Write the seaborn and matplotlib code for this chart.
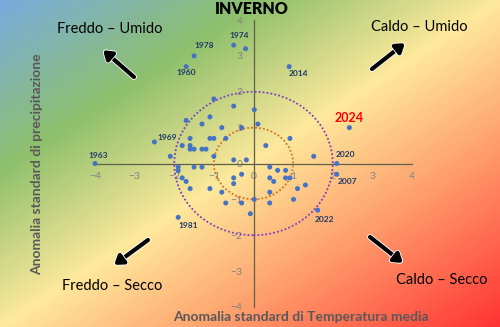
import numpy as np
import pandas as pd
import matplotlib
matplotlib.use("Agg")
import matplotlib.pyplot as plt
import matplotlib.patheffects as pe
from matplotlib.colors import LinearSegmentedColormap
from matplotlib.patches import Ellipse
import seaborn as sns

# ---------------- data ----------------
label_years = ["1960", "1963", "1969", "1974", "1978", "1981",
               "2007", "2014", "2020", "2022", "2024"]
label_temp = [-1.70, -4.00, -2.50, -0.50, -1.50, -1.90,
              2.10, 0.90, 2.10, 1.62, 2.42]
label_prec = [2.70, 0.00, 0.60, 3.30, 3.00, -1.50,
              -0.30, 2.70, 0.00, -1.30, 1.00]

other_temp = [-0.20, -1.00, -0.50, 0.02, -1.70, -1.10, -1.30, 0.11, -0.80, -0.30,
              -1.60, -1.10, -1.00, -0.70, 0.92, -1.80, -1.60, -1.60, -1.50, -1.30,
              -1.20, 0.31, -2.10, -1.00, 1.52, -0.50, -0.18, -1.90, -1.50, -1.30,
              0.41, -1.90, 0.61, 0.81, -0.30, -1.80, -0.50, 0.41, 0.81, 0.92,
              -1.70, -0.50, 0.51, 1.31, -1.60, -1.10, 1.11, -0.80, 0.41, 0.02,
              1.01, -0.70, 0.41, -0.30, -0.08]
other_prec = [3.20, 1.80, 1.60, 1.50, 1.20, 1.30, 1.10, 1.10, 1.00, 1.00,
              0.70, 0.70, 0.70, 0.70, 0.70, 0.50, 0.50, 0.40, 0.40, 0.40,
              0.40, 0.50, 0.20, 0.20, 0.20, 0.10, 0.10, -0.10, -0.10, -0.10,
              -0.10, -0.20, -0.19, -0.19, -0.30, -0.40, -0.40, -0.40, -0.40, -0.40,
              -0.50, -0.56, -0.50, -0.60, -0.70, -0.70, -0.70, -0.80, -0.80, -1.00,
              -1.00, -1.10, -1.10, -1.10, -1.40]

ticks = [-4, -3, -2, -1, 0, 1, 2, 3, 4]
circle_radii = [1, 2]

quadrant_texts = ["Freddo – Umido", "Caldo – Umido", "Freddo – Secco", "Caldo – Secco"]
title = "INVERNO"
xlabel = "Anomalia standard di Temperatura media"
ylabel = "Anomalia standard di precipitazione"

# ---------------- styling / layout ----------------
sns.set_style("white")
plt.rcParams["font.family"] = ["Lato", "DejaVu Sans"]

W, H = 500, 327
fig = plt.figure(figsize=(W / 100, H / 100), dpi=100)

# background gradient
bg = fig.add_axes([0, 0, 1, 1], zorder=0)
xx, yy = np.meshgrid(np.linspace(0, 1, W), np.linspace(0, 1, H))
t = (xx + yy) / 2.0
cmap = LinearSegmentedColormap.from_list(
    "bg", [(0.0, "#78acdf"), (0.26, "#8ec06c"), (0.5, "#fee99c"),
           (0.72, "#ff9d6b"), (1.0, "#ff3434")])
bg.imshow(t, cmap=cmap, aspect="auto", extent=[0, 1, 0, 1], origin="upper",
          interpolation="bilinear")
bg.set_xlim(0, 1)
bg.set_ylim(0, 1)
bg.axis("off")

def fx(px):
    return px / W

def fy(py):
    return 1 - py / H

# main axes
ax = fig.add_axes([fx(95), fy(307), (412 - 95) / W, (307 - 20) / H], zorder=1)
ax.set_facecolor("none")

df = pd.DataFrame({"temp": label_temp + other_temp, "prec": label_prec + other_prec})
sns.scatterplot(data=df, x="temp", y="prec", ax=ax, s=13, color="#4472c4",
                edgecolor="none", linewidth=0, zorder=4, clip_on=False)

circle_colors = ["#d8701e", "#7a3fc0"]
for r, c in zip(circle_radii, circle_colors):
    ax.add_patch(Ellipse((0, 0), 2 * r, 2 * r, fill=False, edgecolor=c,
                         linestyle=(0, (1, 1.2)), linewidth=1.3, zorder=3))

ax.set_xlim(-4, 4)
ax.set_ylim(-4, 4)
ax.set_xticks(ticks)
ax.set_yticks(ticks)
for s in ["top", "right"]:
    ax.spines[s].set_visible(False)
for s in ["left", "bottom"]:
    ax.spines[s].set_position(("data", 0))
    ax.spines[s].set_color("#5f5f4f")
    ax.spines[s].set_linewidth(0.9)
ax.tick_params(axis="x", direction="inout", length=6, width=0.9, color="#5f5f4f",
               labelsize=7.5, labelcolor="#808080", pad=3)
ax.tick_params(axis="y", direction="out", length=3, width=0.9, color="#5f5f4f",
               labelsize=7.5, labelcolor="#808080", pad=5)
ax.set_xlabel("")
ax.set_ylabel("")
ax.grid(False)

# point labels (offsets in pixels)
label_offsets = {"1960": (0, -6), "1963": (3, 8), "1969": (13, 4), "1974": (5, 10),
                 "1978": (10, 10), "1981": (10, -8), "2007": (11, -7),
                 "2014": (9, -7), "2020": (9, 9), "2022": (7, -9), "2024": (0, 10)}
for yr, x, y in zip(label_years, label_temp, label_prec):
    dx, dy = label_offsets[yr]
    if yr == "2024":
        ax.annotate(yr, (x, y), xytext=(dx, dy), textcoords="offset pixels",
                    ha="center", va="center", fontsize=9, fontweight="bold",
                    color="#ff0000", zorder=5, annotation_clip=False)
    else:
        ax.annotate(yr, (x, y), xytext=(dx, dy), textcoords="offset pixels",
                    ha="center", va="center", fontsize=6, fontweight="bold",
                    color="#1f3864", zorder=5, annotation_clip=False)

# titles / labels
fig.text(fx(252), fy(9), title, ha="center", va="center", fontsize=11.5,
         fontweight="heavy", color="black", zorder=5)
fig.text(fx(301), fy(317), xlabel, ha="center", va="center", fontsize=10,
         fontweight="bold", color="#595959", zorder=5)
fig.text(fx(37), fy(164), ylabel, ha="center", va="center", rotation=90,
         fontsize=10, fontweight="bold", color="#595959", zorder=5)

quad_pos = [(110, 29), (419, 27), (112, 286), (442, 280)]
for txt, (px, py) in zip(quadrant_texts, quad_pos):
    fig.text(fx(px), fy(py), txt, ha="center", va="center", fontsize=10.5,
             color="black", zorder=5)

arrows = [((134, 77), (103, 50)), ((372, 69), (405, 43)),
          ((148, 240), (114, 265)), ((370, 237), (403, 263))]
for (tx, ty), (hx, hy) in arrows:
    bg.annotate("", xy=(fx(hx), fy(hy)), xytext=(fx(tx), fy(ty)),
                xycoords="figure fraction", textcoords="figure fraction",
                arrowprops=dict(arrowstyle="-|>,head_length=0.45,head_width=0.3",
                                lw=3.0, color="black", mutation_scale=11,
                                shrinkA=0, shrinkB=0,
                                path_effects=[pe.withStroke(linewidth=4.2,
                                                            foreground="white")]),
                zorder=6)

fig.savefig("out.png", dpi=100)
